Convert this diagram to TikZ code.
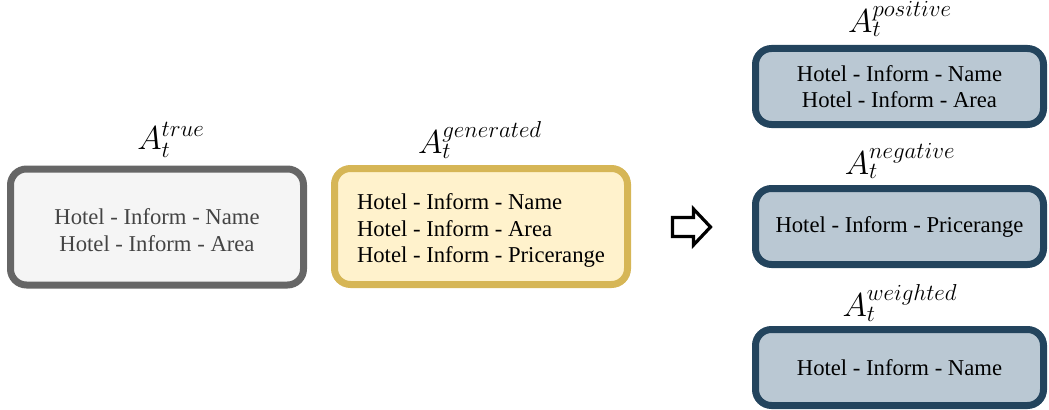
\documentclass[tikz,border=0pt]{standalone}
\usepackage{fontspec}
\setmainfont{Liberation Serif}
\definecolor{grayline}{HTML}{666666}
\definecolor{grayfill}{HTML}{F5F5F5}
\definecolor{graytext}{HTML}{444444}
\definecolor{yelline}{HTML}{D6B656}
\definecolor{yelfill}{HTML}{FFF2CC}
\definecolor{blueline}{HTML}{23445D}
\definecolor{bluefill}{HTML}{BAC8D3}
\tikzset{
  box/.style={draw, line width=5.25pt, rounded corners=12pt, inner sep=0pt,
    align=center, font=\fontsize{17}{20}\selectfont},
  bigbox/.style={box, minimum width=219.75pt, minimum height=87pt},
  smallbox/.style={box, draw=blueline, fill=bluefill, minimum width=216pt, minimum height=57pt},
  lbl/.style={inner sep=0pt, font=\fontsize{23}{27}\selectfont},
}
\begin{document}
\begin{tikzpicture}[x=0.75pt, y=-0.75pt]
\useasboundingbox (0,0) rectangle (1049,410);
\node[bigbox, draw=grayline, fill=grayfill, text=graytext] (true) at (157,227)
  {\\[-3pt]Hotel - Inform - Name\\Hotel - Inform - Area};
\node[bigbox, draw=yelline, fill=yelfill, align=left] (gen) at (481,226.5)
  {\rule{0pt}{18pt}Hotel - Inform - Name\\Hotel - Inform - Area\\Hotel - Inform - Pricerange};
\node[lbl] (ltrue) at (171,140) {$A_t^{true}$};
\node[lbl] (lgen) at (480,140) {$A_t^{generated}$};

\node[smallbox] (pos) at (899.5,86.5) {Hotel - Inform - Name\\Hotel - Inform - Area};
\node[smallbox] (neg) at (899.5,226.5) {Hotel - Inform - Pricerange};
\node[smallbox] (wei) at (899.5,367.5) {Hotel - Inform - Name};
\node[lbl] (lpos) at (900,19) {$A_t^{positive}$};
\node[lbl] (lneg) at (900,161) {$A_t^{negative}$};
\node[lbl] (lwei) at (900,303) {$A_t^{weighted}$};

\draw[line width=2.4pt, line join=miter, fill=white]
  (672.5,217.5) -- (693.5,217.5) -- (693.5,209) -- (710.5,227) -- (693.5,245)
  -- (693.5,236.5) -- (672.5,236.5) -- cycle;
\end{tikzpicture}
\end{document}
